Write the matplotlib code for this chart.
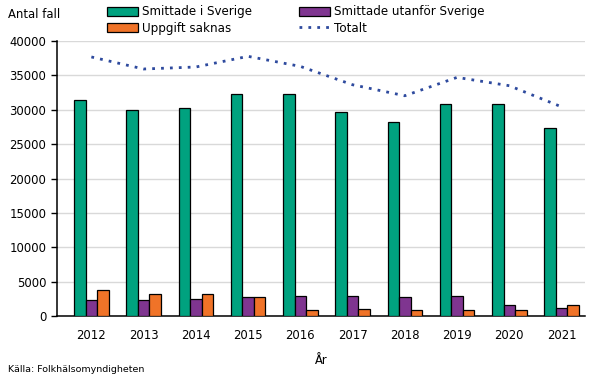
import matplotlib.pyplot as plt
from matplotlib.patches import Patch
from matplotlib.lines import Line2D
import numpy as np

years = ['2012', '2013', '2014', '2015', '2016', '2017', '2018', '2019', '2020', '2021']
sverige = [31400, 29950, 30250, 32270, 32270, 29670, 28200, 30820, 30820, 27350]
utanfor = [2270, 2270, 2420, 2710, 2850, 2850, 2710, 2850, 1550, 1110]
saknas = [3860, 3280, 3140, 2710, 870, 970, 820, 820, 820, 1550]
totalt = [37670, 35920, 36210, 37760, 36300, 33630, 32030, 34700, 33490, 30420]

c_green = '#00A27F'
c_purple = '#7F3590'
c_orange = '#F07328'
c_line = '#2E4A9E'

plt.rcParams['font.family'] = ['DejaVu Sans']
plt.rcParams['font.size'] = 8.4

fig = plt.figure(figsize=(6.05, 3.79), dpi=100)
ax = fig.add_axes([0.094, 0.166, 0.873, 0.726])

x = np.arange(len(years))
w = 0.22
ax.bar(x - w, sverige, w, color=c_green, edgecolor='black', linewidth=0.9, zorder=3)
ax.bar(x, utanfor, w, color=c_purple, edgecolor='black', linewidth=0.9, zorder=3)
ax.bar(x + w, saknas, w, color=c_orange, edgecolor='black', linewidth=0.9, zorder=3)
ax.plot(x, totalt, color=c_line, ls=(0, (1, 2.2)), lw=2.0, zorder=4)

ax.set_xlim(-0.66, 9.45)
ax.set_ylim(0, 40000)
ax.set_yticks(range(0, 40001, 5000))
ax.set_xticks(x)
ax.set_xticklabels(years)
ax.yaxis.grid(True, color='#D9D9D9', lw=1, zorder=0)
ax.set_axisbelow(True)
for s in ['top', 'right']:
    ax.spines[s].set_visible(False)
ax.spines['left'].set_linewidth(1.1)
ax.spines['bottom'].set_linewidth(1.1)
ax.tick_params(axis='x', length=0, pad=9)
ax.tick_params(axis='y', length=4, width=1, direction='out')
ax.set_xlabel('År', labelpad=9)

fig.text(8 / 605, 1 - 15 / 379, 'Antal fall', va='center', ha='left')
fig.text(8 / 605, 1 - 370 / 379, 'Källa: Folkhälsomyndigheten', va='center', ha='left', fontsize=6.8)

handles = [
    Patch(facecolor=c_green, edgecolor='black', linewidth=0.9),
    Patch(facecolor=c_orange, edgecolor='black', linewidth=0.9),
    Patch(facecolor=c_purple, edgecolor='black', linewidth=0.9),
    Line2D([], [], color=c_line, ls=(0, (1, 2.2)), lw=2.0),
]
labels = ['Smittade i Sverige', 'Uppgift saknas', 'Smittade utanför Sverige', 'Totalt']
fig.legend(handles, labels, ncol=2, loc='upper left', bbox_to_anchor=(100 / 605, 1.005),
           frameon=False, borderaxespad=0.2, handlelength=2.6, handleheight=0.8,
           handletextpad=0.35, columnspacing=3.9, labelspacing=0.3, fontsize=8.6)

fig.savefig('out.png', dpi=100)
